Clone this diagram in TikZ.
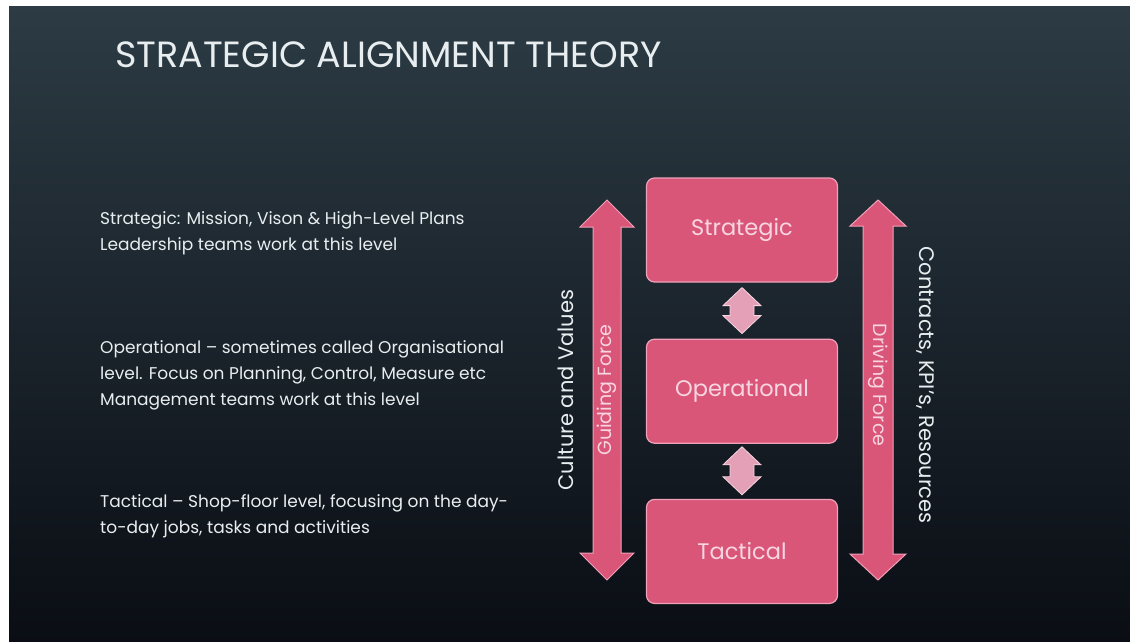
\documentclass[tikz,border=0pt]{standalone}
\usepackage{fontspec}
\setmainfont{Poppins}
\usetikzlibrary{positioning, calc}

\definecolor{slatetop}{RGB}{44,59,68}
\definecolor{slatemid}{RGB}{28,37,45}
\definecolor{slatebot}{RGB}{10,13,20}
\definecolor{boxpink}{RGB}{217,86,121}
\definecolor{edgepink}{RGB}{240,160,184}
\definecolor{softpink}{RGB}{228,160,182}
\definecolor{paletext}{RGB}{232,238,240}
\definecolor{boxtext}{RGB}{248,214,225}

% block arrow with a head at both ends: top tip, bottom tip, shaft half width, head half width, head length, style
\newcommand\blockarrow[6]{%
  \filldraw[#6] (#1) -- ($(#1)+(#4,#5)$) -- ($(#1)+(#3,#5)$) -- ($(#2)+(#3,-#5)$)
    -- ($(#2)+(#4,-#5)$) -- (#2) -- ($(#2)+(-#4,-#5)$) -- ($(#2)+(-#3,-#5)$)
    -- ($(#1)+(-#3,#5)$) -- ($(#1)+(-#4,#5)$) -- cycle;}

\tikzset{
  levelbox/.style={draw=edgepink, line width=1.2pt, fill=boxpink, rounded corners=8pt,
    minimum width=191pt, minimum height=104pt, text=boxtext, font=\fontsize{22.5}{26}\selectfont},
  bigarrow/.style={draw=edgepink, line width=1pt, fill=boxpink},
  smallarrow/.style={draw=boxtext, line width=0.8pt, fill=softpink},
  notes/.style={anchor=base west, align=left, inner sep=0pt, text=paletext,
    font=\fontsize{17}{26}\selectfont},
  sidelabel/.style={text=paletext, font=\fontsize{21}{24}\selectfont},
  forcelabel/.style={text=boxtext, font=\fontsize{19}{21}\selectfont}
}

\begin{document}
\begin{tikzpicture}[x=1pt, y=-1pt]
  \useasboundingbox (0,0) rectangle (1130,641);
  \fill[white] (0,0) rectangle (1130,641);
  \shade[top color=slatetop, middle color=slatemid, bottom color=slatebot] (9,6) rectangle (1130,641);

  \node[anchor=base west, inner sep=0pt, text=paletext, font=\fontsize{36.5}{40}\selectfont]
    (title) at (115,67) {STRATEGIC ALIGNMENT THEORY};

  % notes on the left (placed by the baseline of their last line)
  \node[notes] (strnote) at (100,250) {Strategic: Mission, Vison \& High-Level Plans\\
    Leadership teams work at this level};
  \node[notes] (opnote) at (100,405) {Operational -- sometimes called Organisational\\
    level. Focus on Planning, Control, Measure etc\\
    Management teams work at this level};
  \node[notes] (tacnote) at (100,533) {Tactical -- Shop-floor level, focusing on the day-\\
    to-day jobs, tasks and activities};

  % the three levels
  \node[levelbox] (S) at (742,230) {Strategic};
  \node[levelbox, below=56pt of S] (O) {Operational};
  \node[levelbox, below=55pt of O] (T) {Tactical};

  \coordinate (so1) at ([yshift=-5pt]S.south);
  \coordinate (so2) at ([yshift=5pt]O.north);
  \coordinate (ot1) at ([yshift=-3pt]O.south);
  \coordinate (ot2) at ([yshift=4pt]T.north);
  \blockarrow{so1}{so2}{12}{19}{18}{smallarrow}
  \blockarrow{ot1}{ot2}{12}{19}{18}{smallarrow}

  % guiding and driving force
  \coordinate (gtop) at (607,200);
  \coordinate (gbot) at (607,580);
  \coordinate (dtop) at (878,200);
  \coordinate (dbot) at (878,580);
  \blockarrow{gtop}{gbot}{14}{27}{27}{bigarrow}
  \blockarrow{dtop}{dbot}{15}{28}{26}{bigarrow}

  \node[forcelabel, rotate=90] (guide) at (607,390) {Guiding Force};
  \node[sidelabel, rotate=90] (culture) at (566,390) {Culture and Values};
  \node[forcelabel, rotate=-90] (drive) at (878,385) {Driving Force};
  \node[sidelabel, rotate=-90] (kpi) at (925,385) {Contracts, KPI's, Resources};
\end{tikzpicture}
\end{document}
